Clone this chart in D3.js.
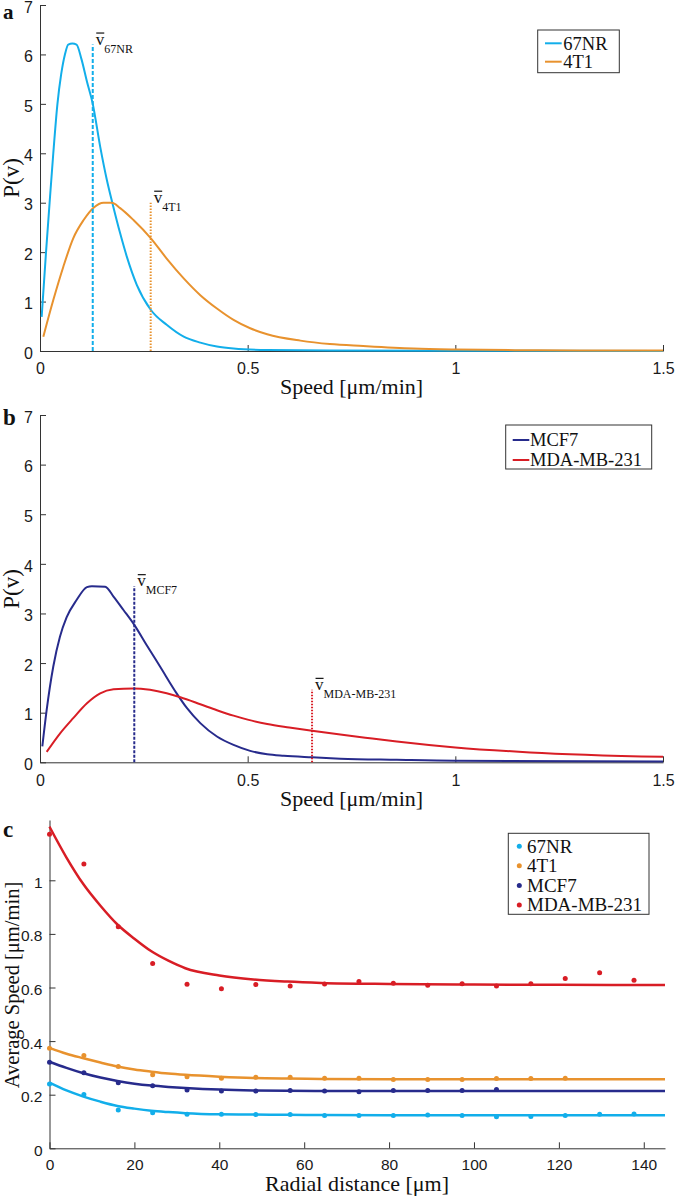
<!DOCTYPE html>
<html><head><meta charset="utf-8">
<script src="https://cdn.jsdelivr.net/npm/d3@7"></script>
<style>body{margin:0;background:#fff}</style>
</head><body>
<script>
// ---------- Panel a data ----------
const v67NR = [0.004,0.0145,0.024,0.032,0.042,0.051,0.060,0.068,0.078,0.088,0.100,0.113,0.127,0.145,0.161,0.175,0.193,0.209,0.233,0.267,0.305,0.346,0.386,0.426,0.466,0.547,0.7,1.0,1.5];
const p67NR = [0.69,2.0,3.1,4.0,5.0,5.6,6.0,6.2,6.22,6.2,5.9,5.45,5.0,4.13,3.46,2.97,2.38,1.91,1.34,0.83,0.53,0.29,0.17,0.09,0.05,0.02,0.01,0.005,0.002];
const v4T1 = [0.008,0.032,0.056,0.08,0.105,0.129,0.153,0.173,0.193,0.225,0.267,0.305,0.346,0.386,0.426,0.466,0.506,0.547,0.627,0.698,0.778,0.899,1.003,1.2,1.5];
const p4T1 = [0.29,1.03,1.7,2.28,2.65,2.9,3.0,3.0,2.89,2.65,2.28,1.87,1.47,1.13,0.86,0.63,0.46,0.34,0.21,0.14,0.1,0.05,0.03,0.015,0.008];
const meanNamesA = ["67NR","4T1"];
const meanValuesA = [0.127,0.2665];
const meanTopsA = [6.2,3.0];

// ---------- Panel b data ----------
const vMCF7 = [0.0056,0.016,0.032,0.048,0.064,0.088,0.113,0.125,0.157,0.177,0.201,0.227,0.257,0.289,0.329,0.354,0.386,0.426,0.466,0.506,0.547,0.587,0.655,0.723,0.859,1.0,1.5];
const pMCF7 = [0.32,1.05,1.93,2.53,2.92,3.27,3.53,3.55,3.54,3.34,3.07,2.77,2.36,1.93,1.39,1.09,0.79,0.52,0.35,0.23,0.16,0.13,0.10,0.074,0.05,0.03,0.015];
const vMDA = [0.016,0.048,0.08,0.113,0.145,0.177,0.225,0.265,0.305,0.338,0.386,0.426,0.466,0.5,0.547,0.6,0.655,0.723,0.8,0.859,1.0,1.18,1.5];
const pMDA = [0.21,0.58,0.89,1.19,1.39,1.47,1.49,1.46,1.39,1.31,1.17,1.05,0.94,0.86,0.77,0.70,0.635,0.56,0.48,0.42,0.30,0.2,0.11];
const meanNamesB = ["MCF7","MDA-MB-231"];
const meanValuesB = [0.227,0.655];
const meanTopsB = [3.55,1.46];

// ---------- Panel c data ----------
const radial = [0,8.1,16.2,24.3,32.4,40.5,48.6,56.7,64.8,72.9,81.0,89.1,97.2,105.3,113.4,121.5,129.6,137.7];
const avg67NR = [0.24,0.201,0.143,0.133,0.127,0.127,0.126,0.126,0.122,0.122,0.122,0.124,0.122,0.118,0.119,0.122,0.127,0.128];
const avg4T1 = [0.373,0.346,0.305,0.274,0.267,0.261,0.265,0.265,0.261,0.261,0.257,0.257,0.257,0.26,0.26,0.261];
const avgMCF7 = [0.321,0.282,0.245,0.233,0.218,0.214,0.214,0.216,0.214,0.211,0.216,0.216,0.216,0.219];
const avgMDA = [1.172,1.061,0.827,0.69,0.612,0.595,0.611,0.606,0.613,0.622,0.616,0.608,0.614,0.606,0.614,0.634,0.655,0.627];
const fitX = [0,4,8,12,16,20,24,28,32,40,48,56,64,80,100,120,145];
const fit67NR = [0.245,0.216,0.193,0.174,0.158,0.148,0.14,0.135,0.131,0.127,0.126,0.125,0.124,0.123,0.123,0.123,0.123];
const fit4T1 = [0.375,0.353,0.336,0.32,0.305,0.294,0.286,0.279,0.274,0.267,0.262,0.26,0.259,0.258,0.258,0.258,0.258];
const fitMCF7 = [0.323,0.3,0.28,0.264,0.251,0.241,0.234,0.229,0.225,0.219,0.216,0.215,0.214,0.214,0.214,0.214,0.214];
const fitMDA = [1.2,1.085,0.985,0.905,0.835,0.782,0.735,0.70,0.672,0.645,0.63,0.622,0.617,0.613,0.611,0.61,0.609];
const namesC = ["67NR","4T1","MCF7","MDA-MB-231"];

// ---------- ticks ----------
const xTicksAB = [0,0.5,1,1.5], xTickLabelsAB = ["0","0.5","1","1.5"];
const yTicksAB = [0,1,2,3,4,5,6,7], yTickLabelsAB = ["0","1","2","3","4","5","6","7"];
const xTicksC = [0,20,40,60,80,100,120,140], xTickLabelsC = ["0","20","40","60","80","100","120","140"];
const yTicksC = [0,0.2,0.4,0.6,0.8,1], yTickLabelsC = ["0","0.2","0.4","0.6","0.8","1"];

// ---------- style ----------
const colors = {"67NR":"#12aeea","4T1":"#e8922e","MCF7":"#272b8c","MDA-MB-231":"#d81d25"};
const sans = "'Liberation Sans', Arial, sans-serif";
const serif = "'Liberation Serif', 'Times New Roman', serif";

const svg = d3.select("body").append("svg").attr("width",675).attr("height",1197)
  .style("background","#fff");

function axes(x, y, xt, xl, yt, yl, fs, padX, padY) {
  const gx = svg.append("g").attr("transform",`translate(0,${y.range()[0]})`)
    .call(d3.axisBottom(x).tickValues(xt).tickFormat((d,i)=>xl[i]).tickSizeInner(-6).tickSizeOuter(0).tickPadding(padX));
  const gy = svg.append("g").attr("transform",`translate(${x.range()[0]},0)`)
    .call(d3.axisLeft(y).tickValues(yt).tickFormat((d,i)=>yl[i]).tickSizeInner(-6).tickSizeOuter(0).tickPadding(padY));
  [gx,gy].forEach(g=>{
    g.attr("font-family",sans).attr("font-size",fs);
    g.selectAll(".domain,.tick line").attr("stroke","#333").attr("stroke-width",1);
    g.selectAll(".tick text").attr("fill","#1a1a1a");
  });
  gy.selectAll(".tick text").attr("dy","0.45em");
}

function lineOf(x,y,xs,ys,color,w){
  const pts = xs.map((d,i)=>[d,ys[i]]);
  svg.append("path").datum(pts)
    .attr("d", d3.line().x(d=>x(d[0])).y(d=>y(d[1])).curve(d3.curveMonotoneX))
    .attr("fill","none").attr("stroke",color).attr("stroke-width",w).attr("stroke-linejoin","round");
}

function meanMarker(x,y,val,top,name,color,dash,fsSub){
  svg.append("line").attr("x1",x(val)).attr("x2",x(val)).attr("y1",y(0)).attr("y2",y(top))
    .attr("stroke",color).attr("stroke-width",2).attr("stroke-dasharray",dash);
  const tx = x(val)+3, ty = y(top);
  const t = svg.append("text").attr("x",tx).attr("y",ty).attr("font-family",serif).attr("fill","#111");
  t.append("tspan").attr("font-size",17).text("v");
  t.append("tspan").attr("font-size",fsSub).attr("dy",8).text(name);
  svg.append("line").attr("x1",tx+0.5).attr("x2",tx+8.5).attr("y1",ty-11.5).attr("y2",ty-11.5)
    .attr("stroke","#111").attr("stroke-width",1.2);
}

function lineLegend(x0,y0,w,h,names,rowY,lx1,lx2,tx){
  svg.append("rect").attr("x",x0).attr("y",y0).attr("width",w).attr("height",h)
    .attr("fill","#fff").attr("stroke","#333").attr("stroke-width",1);
  names.forEach((n,i)=>{
    svg.append("line").attr("x1",lx1).attr("x2",lx2).attr("y1",rowY[i]).attr("y2",rowY[i])
      .attr("stroke",colors[n]).attr("stroke-width",2);
    svg.append("text").attr("x",tx).attr("y",rowY[i]+6.2).attr("font-family",serif)
      .attr("font-size",18.5).attr("fill","#111").text(n);
  });
}

function label(text,x,y,rot,fs,bold){
  svg.append("text").attr("transform",`translate(${x},${y})`+(rot?` rotate(${rot})`:""))
    .attr("text-anchor",bold?"start":"middle").attr("font-family",serif).attr("font-size",fs)
    .attr("font-weight",bold?"bold":"normal").attr("fill","#111").text(text);
}

// ================= Panel a =================
{
  const x = d3.scaleLinear().domain([0,1.5]).range([40,663]);
  const y = d3.scaleLinear().domain([0,7]).range([351,5]);
  axes(x,y,xTicksAB,xTickLabelsAB,yTicksAB,yTickLabelsAB,16,12,7);
  lineOf(x,y,v67NR,p67NR,colors["67NR"],2);
  lineOf(x,y,v4T1,p4T1,colors["4T1"],2);
  meanMarker(x,y,meanValuesA[0],meanTopsA[0],meanNamesA[0],colors["67NR"],"4,2",12);
  meanMarker(x,y,meanValuesA[1],meanTopsA[1],meanNamesA[1],colors["4T1"],"1.5,1.5",12);
  lineLegend(537.7,30,81.6,42.7,["67NR","4T1"],[43.3,61.7],545,561.7,563.3);
  label("Speed [μm/min]",351.5,394,0,22);
  label("P(v)",19,178,-90,23);
  label("a",3,19,0,21,true);
}
// ================= Panel b =================
{
  const x = d3.scaleLinear().domain([0,1.5]).range([40,663]);
  const y = d3.scaleLinear().domain([0,7]).range([762.3,415]);
  axes(x,y,xTicksAB,xTickLabelsAB,yTicksAB,yTickLabelsAB,16,12,7);
  lineOf(x,y,vMCF7,pMCF7,colors["MCF7"],2);
  lineOf(x,y,vMDA,pMDA,colors["MDA-MB-231"],2);
  meanMarker(x,y,meanValuesB[0],meanTopsB[0],meanNamesB[0],colors["MCF7"],"3,1.5",12);
  meanMarker(x,y,meanValuesB[1],meanTopsB[1],meanNamesB[1],colors["MDA-MB-231"],"1.5,1.5",12);
  lineLegend(505.7,425,146,44,["MCF7","MDA-MB-231"],[440,460],512.7,529.3,530);
  label("Speed [μm/min]",351.5,806,0,22);
  label("P(v)",19,589,-90,23);
  label("b",3,425,0,23,true);
}
// ================= Panel c =================
{
  const x = d3.scaleLinear().domain([0,145]).range([49.5,665]);
  const y = d3.scaleLinear().domain([0,1.225]).range([1148.3,820]);
  axes(x,y,xTicksC,xTickLabelsC,yTicksC,yTickLabelsC,15.5,10.5,7);
  const avgs = [avg67NR,avg4T1,avgMCF7,avgMDA];
  const fits = [fit67NR,fit4T1,fitMCF7,fitMDA];
  namesC.forEach((n,i)=>{
    lineOf(x,y,fitX,fits[i],colors[n],2.5);
  });
  namesC.forEach((n,i)=>{
    svg.append("g").selectAll("circle").data(avgs[i]).join("circle")
      .attr("cx",(d,j)=>x(radial[j])).attr("cy",d=>y(d)).attr("r",2.5).attr("fill",colors[n]);
  });
  // legend
  svg.append("rect").attr("x",508.3).attr("y",833.3).attr("width",140.7).attr("height",81)
    .attr("fill","#fff").attr("stroke","#333").attr("stroke-width",1);
  const rows = [846.2,865.8,885.4,905];
  namesC.forEach((n,i)=>{
    svg.append("circle").attr("cx",519.3).attr("cy",rows[i]).attr("r",2.5).attr("fill",colors[n]);
    svg.append("text").attr("x",527).attr("y",rows[i]+6.3).attr("font-family",serif)
      .attr("font-size",19).attr("fill","#111").text(n);
  });
  label("Radial distance [μm]",357,1191,0,22);
  label("Average Speed [μm/min]",18.5,985,-90,20.5);
  label("c",3,837,0,23,true);
}
</script></body></html>
